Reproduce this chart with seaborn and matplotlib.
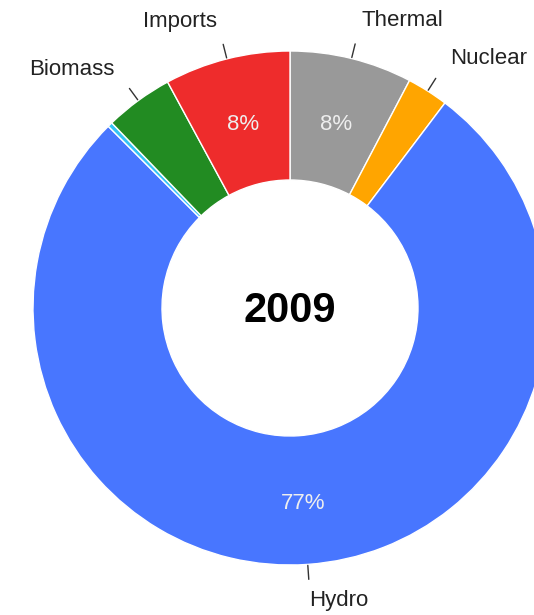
import numpy as np
import matplotlib
matplotlib.use("Agg")
import matplotlib.pyplot as plt
import seaborn as sns

# electricity supply shares, 2009 (percent), clockwise from 12 o'clock
sources = ['Thermal', 'Nuclear', 'Hydro', 'Other', 'Biomass', 'Imports']
shares = [7.7, 2.6, 77.2, 0.3, 4.3, 7.9]
colors = ['#999999', '#FFA500', '#4876FF', '#33C3F5', '#228B22', '#EE2C2C']
year = '2009'

sns.set_style("white")
plt.rcParams['font.family'] = ['Liberation Sans', 'DejaVu Sans']

fig = plt.figure(figsize=(5.34, 6.15), dpi=100)
ax = fig.add_axes([0, 0, 1, 1])

R = 257
W = 129
wedges, texts, autotexts = ax.pie(
    shares, colors=colors, startangle=90, counterclock=False, radius=R,
    autopct=lambda p: f'{p:.0f}%' if p > 5 else '',
    pctdistance=(R - W / 2) / R,
    wedgeprops=dict(width=W, edgecolor='white', linewidth=1),
    textprops=dict(color='#eeeeee', fontsize=16),
)
for t in autotexts:
    x, y = t.get_position()
    t.set_position((x, y - 3))

# leader ticks and outside labels
for w, name, s in zip(wedges, sources, shares):
    if s < 1:
        continue
    ang = np.deg2rad((w.theta1 + w.theta2) / 2)
    c, sn = np.cos(ang), np.sin(ang)
    ax.plot([c * (R + 1), c * (R + 15)], [sn * (R + 1), sn * (R + 15)],
            color='#333333', lw=1)
    ha = 'left' if c >= 0 else 'right'
    if sn >= 0:
        ax.text(c * 298, sn * 298 - 2, name, fontsize=16, color='#222222',
                ha=ha, va='center')
    else:
        ax.text(c * 283, sn * 283, name, fontsize=16, color='#222222',
                ha=ha, va='top')

ax.text(0, -3, year, fontsize=30, fontweight='bold', ha='center', va='center',
        color='black')

ax.set_xlim(-290, 244)
ax.set_ylim(-307, 308)
ax.set_aspect('equal')
ax.axis('off')

fig.savefig('out.png', dpi=100)
